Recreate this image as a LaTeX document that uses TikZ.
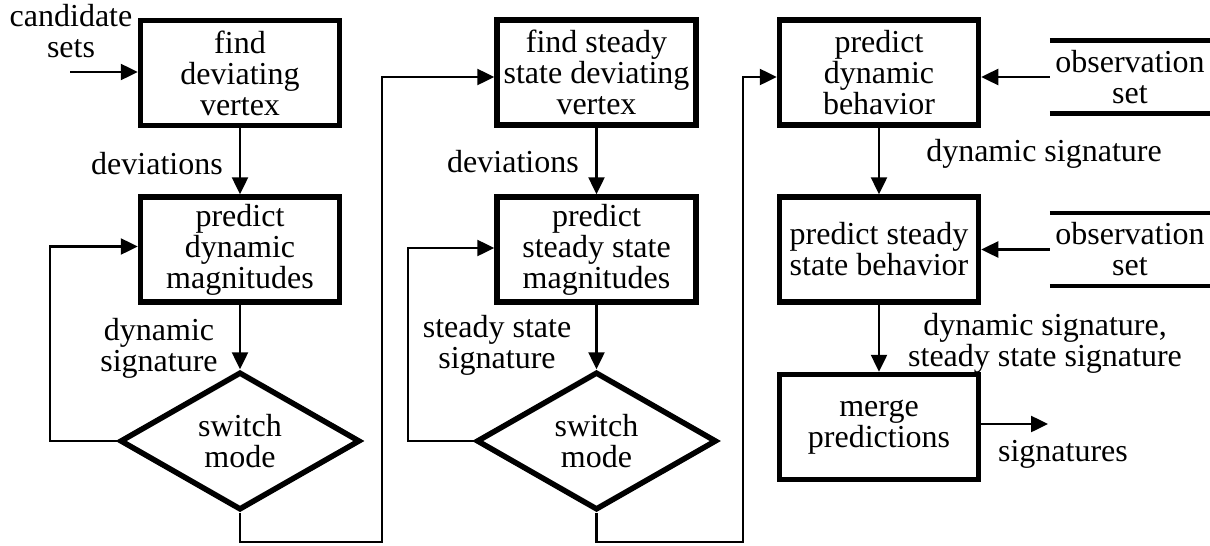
\documentclass[tikz,border=0pt]{standalone}
\usepackage{fontspec}
\setmainfont{Liberation Serif}
\usetikzlibrary{shapes.geometric,arrows.meta,calc}
\begin{document}
\begin{tikzpicture}[x=1pt,y=-1pt,
  every node/.style={font=\fontsize{32}{31}\selectfont, inner sep=0pt, align=center},
  proc/.style={draw, line width=5.5pt, minimum width=199pt, minimum height=105pt},
  dec/.style={draw, diamond, line width=5.5pt, minimum width=240pt, minimum height=138pt},
  conn/.style={line width=2.5pt, -{Triangle[length=17pt,width=16pt]}},
  obs/.style={minimum width=160pt, minimum height=73pt},
  obsline/.style={line width=4.5pt}]
\useasboundingbox (0,0) rectangle (1210,546);
% boxes
\node[proc] (b1) at (240,73) {find\\deviating\\vertex};
\node[proc] (b2) at (240,249.5) {predict\\dynamic\\magnitudes};
\node[dec]  (d1) at (240,441) {switch\\mode};
\node[proc] (b3) at (596.5,72.5) {find steady\\state deviating\\vertex};
\node[proc] (b4) at (596.5,249.5) {predict\\steady state\\magnitudes};
\node[dec]  (d2) at (596.5,441) {switch\\mode};
\node[proc] (b5) at (879,72.5) {predict\\dynamic\\behavior};
\node[proc] (b6) at (879,249.5) {predict steady\\state behavior};
\node[proc] (b7) at (879,427) {merge\\predictions};
% observation sets
\node[obs] (o1) at (1130,77) {observation\\set};
\draw[obsline] (o1.north west) -- (o1.north east);
\draw[obsline] (o1.south west) -- (o1.south east);
\node[obs] (o2) at (1130,249.5) {observation\\set};
\draw[obsline] (o2.north west) -- (o2.north east);
\draw[obsline] (o2.south west) -- (o2.south east);
% labels
\node (lcs) at (71,31) {candidate\\sets};
\node (ldev1) at (157,164) {deviations};
\node (ldyn1) at (159,348) {dynamic\\signature};
\node (ldev2) at (513,162) {deviations};
\node (lss) at (497,345) {steady state\\signature};
\node (ldyn2) at (1044,154) {dynamic signature};
\node (ldss) at (1045,343) {dynamic signature,\\steady state signature};
\node (lsig) at (1063,454) {signatures};
% coordinates
\coordinate (cs) at (70,72);
\coordinate (l1) at (50,441);
\coordinate (r1) at (382,542);
\coordinate (l2) at (408,441);
\coordinate (r2) at (743,542);
\coordinate (sig) at (1048,424);
% connectors
\draw[conn] (cs) -- (cs -| b1.west);
\draw[conn] (b1.south) -- (b2.north);
\draw[conn] (b2.south) -- (d1.north);
\draw[conn] (d1.west) -- (l1) |- ($(b2.west)+(0,-3)$);
\draw[conn] (d1.south) |- (r1) |- ($(b3.west)+(0,4.5)$);
\draw[conn] (b3.south) -- (b4.north);
\draw[conn] (b4.south) -- (d2.north);
\draw[conn] (d2.west) -- (l2) |- ($(b4.west)+(0,-1.5)$);
\draw[conn] (d2.south) |- (r2) |- ($(b5.west)+(0,4.5)$);
\draw[conn] (o1.west) -- (o1.west -| b5.east);
\draw[conn] (b5.south) -- (b6.north);
\draw[conn] (o2.west) -- (o2.west -| b6.east);
\draw[conn] (b6.south) -- (b7.north);
\draw[conn] (b7.east |- sig) -- (sig);
\end{tikzpicture}
\end{document}
